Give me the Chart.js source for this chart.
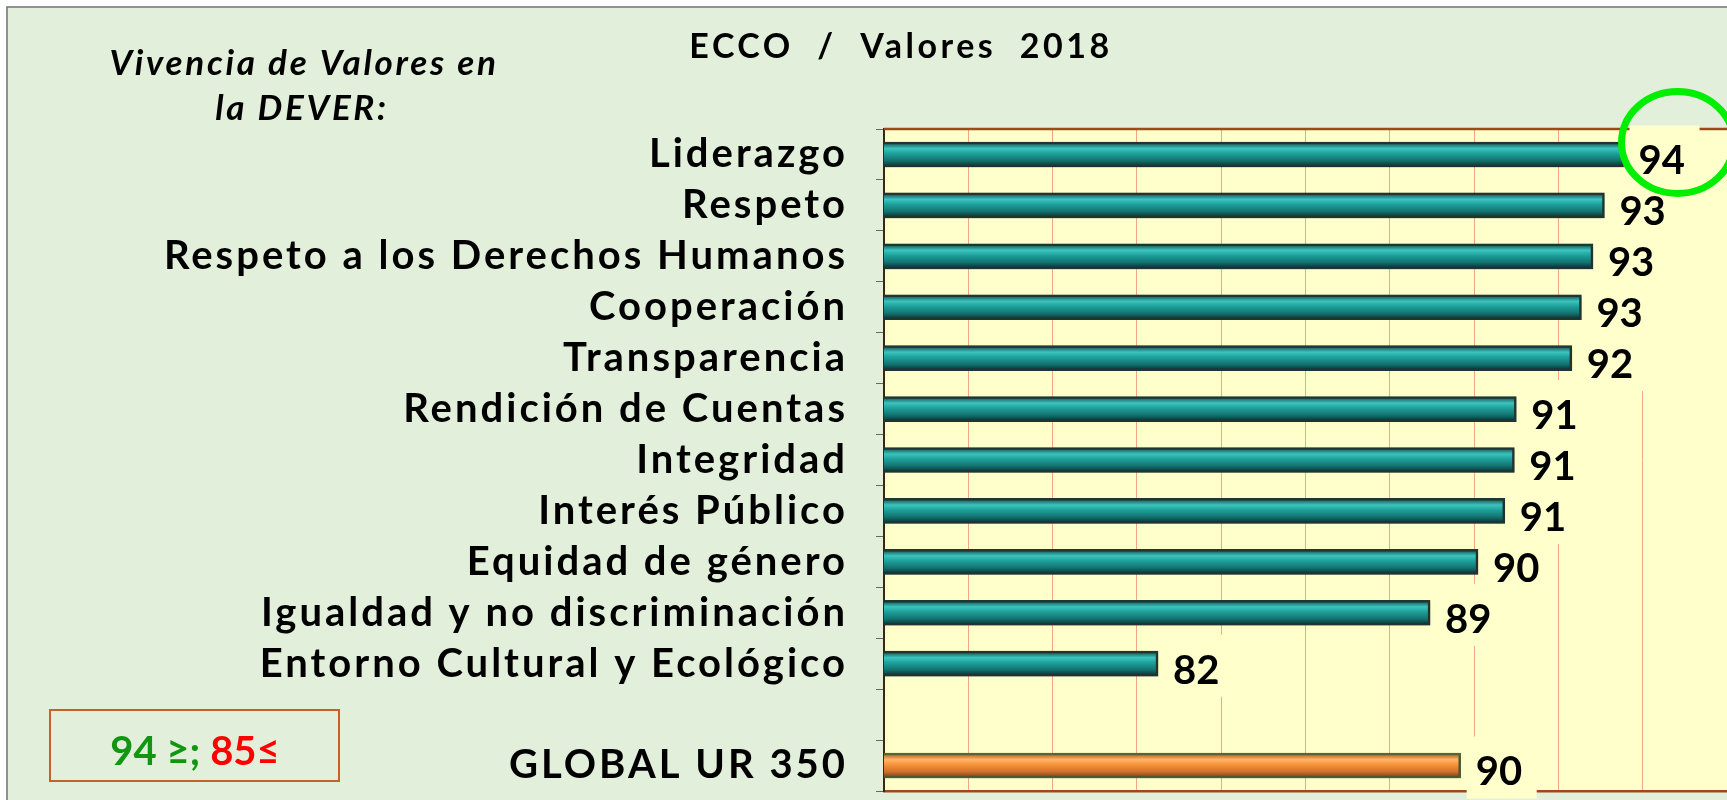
<!DOCTYPE html>
<html>
<head>
<meta charset="utf-8">
<script src="https://cdn.jsdelivr.net/npm/chart.js@4.4.1/dist/chart.umd.min.js"></script>
<style>
  html, body { margin: 0; padding: 0; background: #fff; }
  #wrap { width: 1727px; height: 800px; }
</style>
</head>
<body>
<div id="wrap"><canvas id="chart" width="1727" height="800"></canvas></div>
<script>
// categories (empty slot before the global row, as in the original sheet)
const categories = [
  'Liderazgo', 'Respeto', 'Respeto a los Derechos Humanos', 'Cooperación',
  'Transparencia', 'Rendición de Cuentas', 'Integridad', 'Interés Público',
  'Equidad de género', 'Igualdad y no discriminación', 'Entorno Cultural y Ecológico',
  '', 'GLOBAL UR 350'
];
// bar lengths; labels show the rounded score
const values = [93.8, 93.3, 93.0, 92.7, 92.45, 91.0, 90.95, 90.7, 90.0, 88.75, 81.65, null, 89.55];
const shownLabels = [94, 93, 93, 93, 92, 91, 91, 91, 90, 89, 82, null, 90];

const xMin = 74.5, xMax = 96.5, xDivisions = 10;
const globalIndex = categories.length - 1;

const FONT = 'Lato, "Noto Sans", sans-serif';

function barFill(c) {
  const chart = c.chart;
  const ys = chart.scales && chart.scales.y;
  const isGlobal = c.dataIndex === globalIndex;
  const flat = isGlobal ? '#f39440' : '#1d9a96';
  if (!ys || c.type !== 'data') return flat;
  const cy = ys.getPixelForValue(c.dataIndex);
  if (!isFinite(cy)) return flat;
  const g = chart.ctx.createLinearGradient(0, cy - 12, 0, cy + 12);
  if (isGlobal) {
    g.addColorStop(0, '#a85a22');
    g.addColorStop(0.25, '#ffb565');
    g.addColorStop(0.45, '#f7953c');
    g.addColorStop(0.75, '#d2702a');
    g.addColorStop(1, '#7a4018');
  } else {
    g.addColorStop(0, '#0f4a48');
    g.addColorStop(0.25, '#3cc4be');
    g.addColorStop(0.45, '#1fa29d');
    g.addColorStop(0.75, '#137370');
    g.addColorStop(1, '#08302f');
  }
  return g;
}

const decor = {
  id: 'decor',
  beforeDraw(chart) {
    const { ctx, chartArea: a } = chart;
    // the original face is wider than Lato: open it up a little
    ctx.letterSpacing = '3px';
    ctx.save();
    ctx.fillStyle = '#ffffff';
    ctx.fillRect(0, 0, chart.width, chart.height);
    ctx.fillStyle = '#e2efda';
    ctx.fillRect(8, 8, chart.width - 8, chart.height - 8);
    ctx.strokeStyle = '#6e6e6e';
    ctx.lineWidth = 1.5;
    ctx.beginPath();
    ctx.moveTo(7, chart.height); ctx.lineTo(7, 7); ctx.lineTo(chart.width, 7);
    ctx.stroke();
    ctx.fillStyle = '#ffffcc';
    ctx.fillRect(a.left, a.top, a.right - a.left, a.bottom - a.top);

    // header texts
    ctx.fillStyle = '#000';
    ctx.textAlign = 'center';
    ctx.textBaseline = 'alphabetic';
    ctx.letterSpacing = '3.5px';
    ctx.font = 'bold 34px ' + FONT;
    ctx.fillText('ECCO  /  Valores  2018', 901, 58);
    ctx.letterSpacing = '2.7px';
    ctx.font = 'italic bold 35px ' + FONT;
    ctx.fillText('Vivencia de Valores en', 304, 75);
    ctx.fillText('la DEVER:', 302, 120);

    // threshold box
    ctx.letterSpacing = '0px';
    ctx.strokeStyle = '#c5622a';
    ctx.lineWidth = 2;
    ctx.strokeRect(50, 710, 289, 71);
    ctx.font = 'bold 40px ' + FONT;
    ctx.textAlign = 'left';
    const p1 = '94 ≥; ', p2 = '85≤';
    const w1 = ctx.measureText(p1).width, w2 = ctx.measureText(p2).width;
    const sx = 195 - (w1 + w2) / 2;
    ctx.fillStyle = '#129612';
    ctx.fillText(p1, sx, 765);
    ctx.fillStyle = '#ff0000';
    ctx.fillText(p2, sx + w1, 765);
    ctx.restore();
  },
  beforeDatasetsDraw(chart) {
    const { ctx, chartArea: a } = chart;
    ctx.save();
    ctx.strokeStyle = '#9c4a1a';
    ctx.lineWidth = 2.5;
    ctx.beginPath();
    ctx.moveTo(a.left, a.top); ctx.lineTo(a.right, a.top);
    ctx.stroke();
    // label backgrounds hide the grid lines behind the numbers
    ctx.fillStyle = '#ffffcc';
    chart.getDatasetMeta(0).data.forEach((el, i) => {
      if (values[i] == null) return;
      ctx.fillRect(el.x + 6, el.y - 29, 70, 62);
    });
    // soft shadow under the bars
    ctx.restore();
    ctx.save();
    ctx.shadowColor = 'rgba(40,40,30,0.45)';
    ctx.shadowBlur = 3;
    ctx.shadowOffsetX = 1;
    ctx.shadowOffsetY = 1;
  },
  afterDatasetsDraw(chart) {
    const { ctx } = chart;
    ctx.restore();
    ctx.letterSpacing = '0px';
    ctx.save();
    ctx.fillStyle = '#000';
    ctx.font = 'bold 40px ' + FONT;
    ctx.textAlign = 'left';
    ctx.textBaseline = 'middle';
    const els = chart.getDatasetMeta(0).data;
    els.forEach((el, i) => {
      if (values[i] == null) return;
      ctx.fillText(String(shownLabels[i]), el.x + 15, el.y + 7);
    });
    // highlight ring around the top score
    const top = els[0];
    ctx.strokeStyle = '#00ee00';
    ctx.lineWidth = 7;
    ctx.beginPath();
    ctx.ellipse(top.x + 54, top.y - 12, 56, 51, 0, 0, Math.PI * 2);
    ctx.stroke();
    ctx.restore();
  }
};

new Chart(document.getElementById('chart'), {
  type: 'bar',
  data: {
    labels: categories,
    datasets: [{
      data: values,
      backgroundColor: barFill,
      borderColor: c => c.dataIndex === globalIndex ? '#5a6838' : '#1f3634',
      borderWidth: 2.5,
      borderSkipped: false,
      barThickness: 25,
    }],
  },
  options: {
    indexAxis: 'y',
    responsive: false,
    animation: false,
    devicePixelRatio: 1,
    layout: { padding: { top: 129, bottom: 9, left: 0, right: 0 } },
    plugins: { legend: { display: false }, tooltip: { enabled: false } },
    scales: {
      x: {
        min: xMin,
        max: xMax,
        afterBuildTicks: s => {
          s.ticks = Array.from({ length: xDivisions + 1 }, (_, i) => ({ value: xMin + i * (xMax - xMin) / xDivisions }));
        },
        afterFit: s => { s.height = 0; s.paddingLeft = 0; s.paddingRight = 0; },
        ticks: { display: false },
        grid: { color: '#f2a684', lineWidth: 1, drawTicks: false },
        border: { display: true, color: '#9c4a1a', width: 2.5 },
      },
      y: {
        afterFit: s => { s.width = 884; s.paddingTop = 0; s.paddingBottom = 0; },
        ticks: {
          color: '#000',
          font: { family: FONT, size: 40, weight: 'bold' },
          padding: 28,
          autoSkip: false,
        },
        grid: { drawOnChartArea: false, drawTicks: true, tickLength: 8, color: '#666', offset: true },
        border: { display: true, color: '#3a2616', width: 2 },
      },
    },
  },
  plugins: [decor],
});
</script>
</body>
</html>
